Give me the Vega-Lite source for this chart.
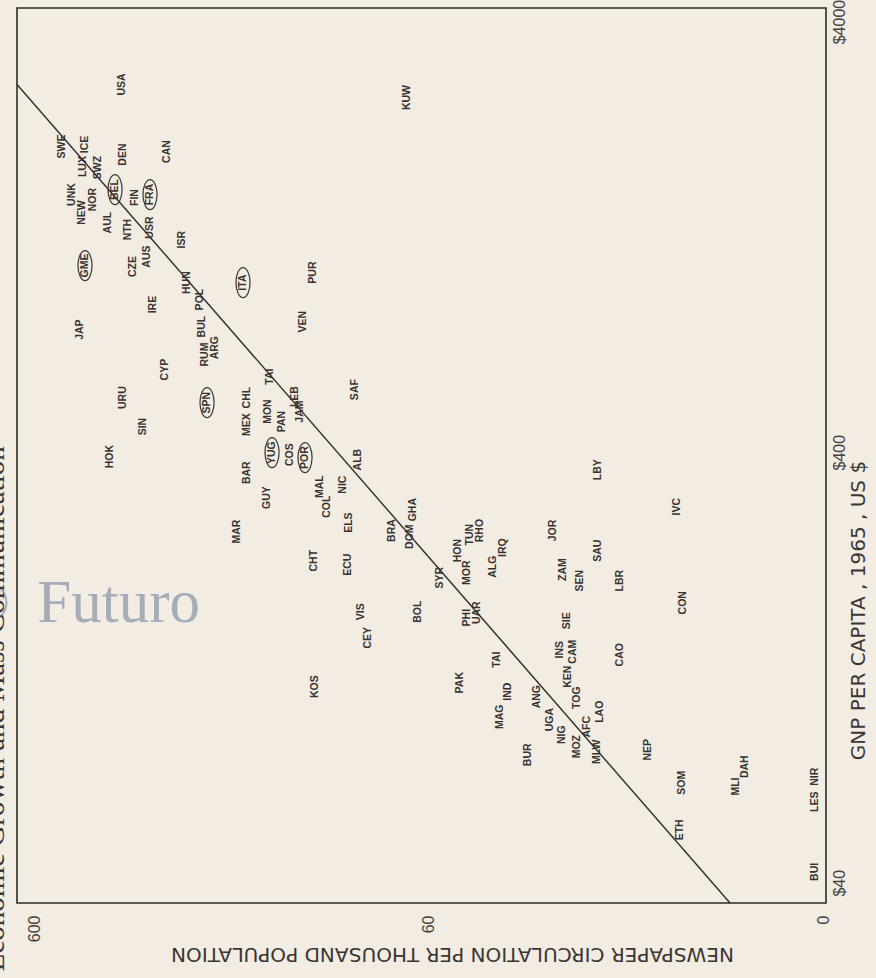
{
  "$schema": "https://vega.github.io/schema/vega-lite/v6.json",
  "width": 809,
  "height": 895,
  "autosize": {"type": "none"},
  "padding": {"left": 17, "top": 8, "right": 50, "bottom": 75},
  "background": "#f3ece3",
  "config": {
    "view": {"stroke": "#2e2b29", "strokeWidth": 1.6},
    "axis": {"grid": false, "ticks": false, "domain": false, "labelColor": "#45403d", "titleColor": "#3a3633", "labelOverlap": false, "labelFlush": false, "labelBound": false}
  },
  "datasets": {
    "countries": [
      {"c": "USA", "n": 359.1, "g": 2856},
      {"c": "KUW", "n": 68.0, "g": 2664},
      {"c": "SWE", "n": 509.5, "g": 2050},
      {"c": "UNK", "n": 480.8, "g": 1586},
      {"c": "NEW", "n": 453.4, "g": 1440},
      {"c": "ICE", "n": 445.6, "g": 2072},
      {"c": "LUX", "n": 450.8, "g": 1842},
      {"c": "NOR", "n": 425.1, "g": 1544},
      {"c": "SWZ", "n": 413.0, "g": 1832},
      {"c": "DEN", "n": 356.9, "g": 1964},
      {"c": "BEL", "n": 374.0, "g": 1629, "o": true},
      {"c": "AUL", "n": 389.6, "g": 1365},
      {"c": "NTH", "n": 346.6, "g": 1315},
      {"c": "FIN", "n": 332.8, "g": 1561},
      {"c": "FRA", "n": 304.9, "g": 1586, "o": true},
      {"c": "CAN", "n": 276.1, "g": 1996},
      {"c": "USR", "n": 304.9, "g": 1329},
      {"c": "AUS", "n": 310.3, "g": 1138},
      {"c": "CZE", "n": 336.7, "g": 1079},
      {"c": "GME", "n": 445.6, "g": 1085, "o": true},
      {"c": "ISR", "n": 252.9, "g": 1246},
      {"c": "HUN", "n": 245.6, "g": 990.4},
      {"c": "POL", "n": 227.7, "g": 904.4},
      {"c": "IRE", "n": 299.6, "g": 880.4},
      {"c": "ITA", "n": 177.2, "g": 990.4, "o": true},
      {"c": "PUR", "n": 117.8, "g": 1045},
      {"c": "JAP", "n": 458.7, "g": 770.2},
      {"c": "BUL", "n": 225.1, "g": 782.6},
      {"c": "ARG", "n": 208.6, "g": 699.5},
      {"c": "RUM", "n": 221.1, "g": 674.0},
      {"c": "SPN", "n": 218.6, "g": 521.3, "o": true},
      {"c": "CYP", "n": 279.3, "g": 621.9},
      {"c": "VEN", "n": 124.8, "g": 803.8},
      {"c": "URU", "n": 356.9, "g": 535.4},
      {"c": "SIN", "n": 317.6, "g": 458.5},
      {"c": "HOK", "n": 385.1, "g": 390.6},
      {"c": "TAI", "n": 151.4, "g": 599.1},
      {"c": "CHL", "n": 173.1, "g": 535.4},
      {"c": "MEX", "n": 173.1, "g": 463.4},
      {"c": "BAR", "n": 173.1, "g": 358.4},
      {"c": "MON", "n": 153.1, "g": 496.8},
      {"c": "YUG", "n": 149.6, "g": 399.0, "o": true},
      {"c": "PAN", "n": 141.1, "g": 471.0},
      {"c": "COS", "n": 134.7, "g": 394.8},
      {"c": "POR", "n": 123.4, "g": 388.5, "o": true},
      {"c": "LEB", "n": 130.8, "g": 538.3},
      {"c": "JAM", "n": 127.0, "g": 496.8},
      {"c": "SAF", "n": 92.1, "g": 558.8},
      {"c": "ALB", "n": 90.6, "g": 384.4},
      {"c": "MAL", "n": 113.0, "g": 332.7},
      {"c": "COL", "n": 108.5, "g": 298.8},
      {"c": "NIC", "n": 98.8, "g": 336.3},
      {"c": "GUY", "n": 154.0, "g": 313.6},
      {"c": "MAR", "n": 183.4, "g": 261.5},
      {"c": "CHT", "n": 117.1, "g": 223.9},
      {"c": "ECU", "n": 96.0, "g": 219.2},
      {"c": "ELS", "n": 95.4, "g": 274.4},
      {"c": "BRA", "n": 74.25, "g": 263.0},
      {"c": "GHA", "n": 65.7, "g": 294.1},
      {"c": "DOM", "n": 66.9, "g": 254.6},
      {"c": "SYR", "n": 56.1, "g": 204.4},
      {"c": "HON", "n": 50.5, "g": 236.2},
      {"c": "TUN", "n": 47.1, "g": 257.3},
      {"c": "MOR", "n": 47.9, "g": 210.0},
      {"c": "RHO", "n": 44.4, "g": 263.0},
      {"c": "ALG", "n": 41.2, "g": 216.8},
      {"c": "IRQ", "n": 38.9, "g": 240.1},
      {"c": "PHI", "n": 47.9, "g": 165.1},
      {"c": "UAR", "n": 45.2, "g": 169.5},
      {"c": "BOL", "n": 63.8, "g": 170.4},
      {"c": "VIS", "n": 89.0, "g": 170.4},
      {"c": "CEY", "n": 85.4, "g": 148.3},
      {"c": "KOS", "n": 116.4, "g": 114.1},
      {"c": "JOR", "n": 29.0, "g": 263.0},
      {"c": "ZAM", "n": 27.4, "g": 213.4},
      {"c": "SEN", "n": 24.8, "g": 201.2},
      {"c": "SAU", "n": 22.3, "g": 236.2},
      {"c": "LBR", "n": 19.6, "g": 201.2},
      {"c": "SIE", "n": 26.7, "g": 162.4},
      {"c": "INS", "n": 27.9, "g": 139.1},
      {"c": "CAM", "n": 25.8, "g": 137.6},
      {"c": "CAO", "n": 19.6, "g": 135.4},
      {"c": "TAI", "n": 40.2, "g": 131.9},
      {"c": "PAK", "n": 49.9, "g": 116.6},
      {"c": "MAG", "n": 39.5, "g": 97.2},
      {"c": "IND", "n": 37.7, "g": 111.1},
      {"c": "ANG", "n": 31.9, "g": 108.2},
      {"c": "KEN", "n": 26.6, "g": 120.4},
      {"c": "UGA", "n": 29.5, "g": 95.7},
      {"c": "NIG", "n": 27.5, "g": 88.3},
      {"c": "TOG", "n": 25.2, "g": 107.6},
      {"c": "MOZ", "n": 25.2, "g": 82.8},
      {"c": "AFC", "n": 23.8, "g": 92.1},
      {"c": "LAO", "n": 22.1, "g": 99.8},
      {"c": "MLW", "n": 22.4, "g": 80.6},
      {"c": "BUR", "n": 33.6, "g": 79.3},
      {"c": "NEP", "n": 16.7, "g": 81.5},
      {"c": "SOM", "n": 13.7, "g": 68.3},
      {"c": "ETH", "n": 13.8, "g": 53.1},
      {"c": "MLI", "n": 10.0, "g": 66.9},
      {"c": "DAH", "n": 9.46, "g": 74.4},
      {"c": "BUI", "n": 6.29, "g": 42.4},
      {"c": "LES", "n": 6.29, "g": 61.7},
      {"c": "NIR", "n": 6.29, "g": 70.5},
      {"c": "LBY", "n": 22.3, "g": 364.2},
      {"c": "IVC", "n": 14.1, "g": 298.8},
      {"c": "CON", "n": 13.6, "g": 178.8}
    ],
    "fit": [
      {"n": 662.7, "g": 2857},
      {"n": 10.33, "g": 35.9}
    ],
    "mark": [
      {"t": "Futuro", "n": 227.7, "g": 161.6},
      {"t": "©", "n": 690.2, "g": 161.6}
    ],
    "header": [
      {"t": "Economic Growth and Mass Communication", "n": 714.9, "g": 24.9}
    ]
  },
  "encoding": {
    "x": {
      "field": "n", "type": "quantitative",
      "scale": {"type": "log", "domain": [5.9, 662.7], "reverse": true, "nice": false},
      "axis": {
        "values": [6, 60, 600],
        "labelExpr": "datum.value == 6 ? '0' : format(datum.value, 'd')",
        "labelAngle": 270, "labelAlign": "right", "labelBaseline": "middle",
        "labelPadding": 12, "labelFont": "Liberation Sans", "labelFontSize": 16,
        "title": "NEWSPAPER CIRCULATION PER THOUSAND POPULATION",
        "titleAngle": 180, "titleX": 435, "titleY": 50, "titleAlign": "center", "titleBaseline": "middle",
        "titleFont": "DejaVu Sans", "titleFontSize": 20, "titleFontWeight": "normal"
      }
    },
    "y": {
      "field": "g", "type": "quantitative",
      "scale": {"type": "log", "domain": [35.9, 4300], "nice": false},
      "axis": {
        "orient": "right",
        "values": [40, 400, 4000],
        "labelExpr": "'$' + datum.value",
        "labelAngle": 270, "labelAlign": "center", "labelBaseline": "top",
        "labelPadding": 5, "labelFont": "Liberation Sans", "labelFontSize": 16,
        "title": "GNP PER CAPITA , 1965 , US $",
        "titleAngle": 270, "titleX": 32, "titleY": 602, "titleAlign": "center", "titleBaseline": "middle",
        "titleFont": "DejaVu Sans", "titleFontSize": 20, "titleFontWeight": "normal"
      }
    }
  },
  "layer": [
    {
      "data": {"name": "fit"},
      "mark": {"type": "line", "color": "#2f2c2a", "strokeWidth": 1.4}
    },
    {
      "data": {"name": "countries"},
      "transform": [{"filter": "datum.o === true"}],
      "mark": {"type": "point", "shape": "M0,-1A0.47,1 0 1,1 0,1A0.47,1 0 1,1 0,-1Z", "size": 900, "filled": false, "stroke": "#3b3734", "strokeWidth": 1.2, "opacity": 1}
    },
    {
      "data": {"name": "countries"},
      "mark": {"type": "text", "angle": 270, "align": "center", "baseline": "middle", "font": "Liberation Sans", "fontSize": 10.5, "fontWeight": "bold", "color": "#36322f"},
      "encoding": {"text": {"field": "c"}}
    },
    {
      "data": {"name": "mark"},
      "mark": {"type": "text", "align": "right", "baseline": "alphabetic", "font": "Liberation Serif", "fontSize": 61, "color": "#a5adb8"},
      "encoding": {"text": {"field": "t"}}
    },
    {
      "data": {"name": "header"},
      "mark": {"type": "text", "angle": 270, "align": "left", "baseline": "alphabetic", "font": "Liberation Serif", "fontSize": 29, "color": "#3a3633"},
      "encoding": {"text": {"field": "t"}}
    }
  ]
}
